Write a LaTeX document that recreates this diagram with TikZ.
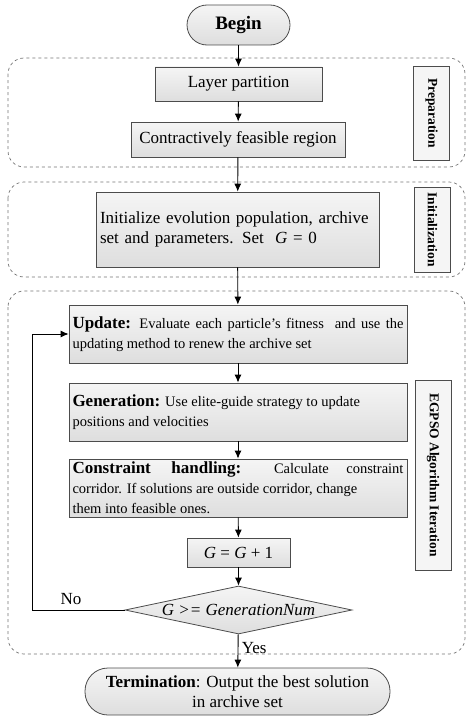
\documentclass[tikz,border=0pt]{standalone}
\usepackage{fontspec}
\setmainfont{Liberation Serif}
\usetikzlibrary{arrows.meta,calc,positioning,shapes.geometric}

\begin{document}
\begin{tikzpicture}[x=1pt,y=-1pt]

\tikzset{box/.style = {shape=rectangle,draw=black!70,top color=black!4,bottom color=black!13,line width=0.8pt,inner sep=3pt,font=\fontsize{17}{20.5}\selectfont}}
\tikzset{textbox/.style = {box,minimum width=338pt,minimum height=58pt,text width=331pt,align=justify,font=\fontsize{14.5}{20}\selectfont}}
\tikzset{term/.style = {box,rounded corners=20pt,align=center}}
\tikzset{group/.style = {draw=black!55,dashed,line width=0.7pt,rounded corners=16pt}}
\tikzset{tag/.style = {shape=rectangle,draw=black!70,fill=black!4,line width=0.8pt,rotate=-90,minimum height=36pt,font=\fontsize{13.5}{16}\selectfont\bfseries}}
\tikzset{edge/.style = {-{Latex[length=8pt,width=7pt]},line width=0.9pt}}
\newcommand{\hd}[1]{{\fontsize{17}{20}\selectfont\bfseries #1}}

\useasboundingbox (0,0) rectangle (468,717);

% groups
\draw[group] (8,58) rectangle (465,167);
\draw[group] (8,182) rectangle (465,277);
\draw[group] (8,291) rectangle (465,654);

% vertices
\node[term,minimum width=103pt,minimum height=40pt,font=\fontsize{19}{22}\selectfont\bfseries] (begin) at (238.5,25) {Begin};
\node[box,minimum width=167pt,minimum height=34pt] (layer) at (238.5,84) {Layer partition};
\node[box,minimum width=214pt,minimum height=35pt] (region) at (238,139.5) {Contractively feasible region};
\node[box,minimum width=283pt,minimum height=75pt,text width=275pt,align=left] (init) at (237.5,229.5) {Initialize evolution population, archive\\set and parameters. Set \ \textit{G} = 0};
\node[textbox] (update) at (238,334) {\hd{Update:} Evaluate each particle's fitness \ and use the\linebreak updating method to renew the archive set};
\node[textbox] (gen) at (238,412) {\hd{Generation:} Use elite-guide strategy to update\newline positions and velocities};
\node[textbox] (cons) at (238,488) {\hd{Constraint handling:} Calculate constraint\linebreak corridor. If solutions are outside corridor, change\newline them into feasible ones.};
\node[box,minimum width=103pt,minimum height=29pt] (inc) at (238.5,552.5) {\textit{G} = \textit{G} + 1};
\node[box,shape=diamond,aspect=4.7,inner sep=0pt,minimum width=227pt,minimum height=48pt] (dec) at (238.5,610) {\textit{G >= GenerationNum}};
\node[term,minimum width=305pt,minimum height=47pt,rounded corners=23pt] (term) at (237.5,691.5) {\textbf{Termination}: Output the best solution\\in archive set};

% labels
\node[tag,minimum width=94pt] (prep) at (431.5,113) {Preparation};
\node[tag,minimum width=85pt] (initl) at (432.5,229.5) {Initialization};
\node[tag,minimum width=190pt] (iter) at (433,475) {EGPSO Algorithm Iteration};

%edges
\draw[edge] (begin) to (layer);
\draw[edge] (layer) to (region);
\draw[edge] (region) to (init);
\draw[edge] (init) to (update);
\draw[edge] (update) to (gen);
\draw[edge] (gen) to (cons);
\draw[edge] (cons) to (inc);
\draw[edge] (inc) to (dec);
\draw[edge] (dec) to node[right,pos=0.4,font=\fontsize{17}{20}\selectfont] (yes) {Yes} (term);
\draw[edge] (dec.west) -| ([xshift=-36pt]update.west) -- (update.west);
\node[font=\fontsize{17}{20}\selectfont,above right] (no) at (57,608) {No};
\end{tikzpicture}
\end{document}
